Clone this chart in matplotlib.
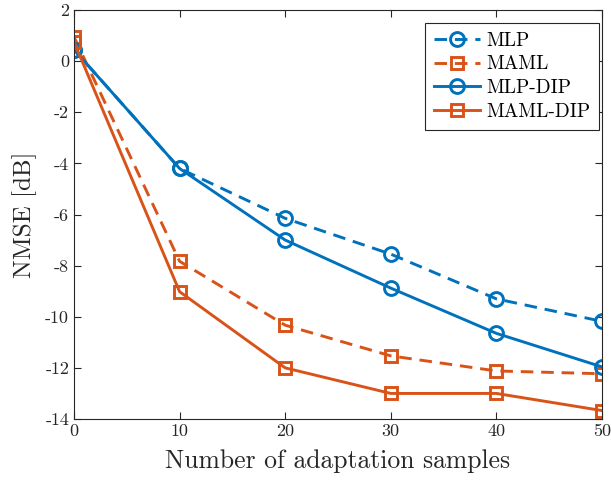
import matplotlib
matplotlib.use("Agg")
import matplotlib.pyplot as plt
import numpy as np

plt.rcParams["font.family"] = "serif"
plt.rcParams["font.serif"] = ["cmr10", "DejaVu Serif"]
plt.rcParams["axes.unicode_minus"] = False
plt.rcParams["mathtext.fontset"] = "cm"

# data
samples = [0, 10, 20, 30, 40, 50]
mlp = [0.45, -4.2, -6.15, -7.55, -9.3, -10.18]
maml = [0.95, -7.83, -10.33, -11.53, -12.12, -12.23]
mlp_dip = [0.45, -4.2, -7.0, -8.88, -10.65, -11.96]
maml_dip = [0.75, -9.02, -12.0, -13.0, -13.0, -13.67]

xticks = [0, 10, 20, 30, 40, 50]
yticks = [2, 0, -2, -4, -6, -8, -10, -12, -14]

blue = "#0072BD"
orange = "#D95319"

fig = plt.figure(figsize=(6.11, 4.8), dpi=100)
ax = fig.add_axes([74 / 611, 61 / 480, 528 / 611, 409 / 480])

dash = (4.3, 2.7)
ax.plot(samples, mlp, "--o", color=blue, lw=2.1, ms=10, mew=2.1, mfc="none", label="MLP", dashes=dash)
ax.plot(samples, maml, "--s", color=orange, lw=2.1, ms=8, mew=2.1, mfc="none", label="MAML", dashes=dash)
ax.plot(samples, mlp_dip, "-o", color=blue, lw=2.1, ms=10, mew=2.1, mfc="none", label="MLP-DIP")
ax.plot(samples, maml_dip, "-s", color=orange, lw=2.1, ms=8, mew=2.1, mfc="none", label="MAML-DIP")

ax.set_xlim(0, 50)
ax.set_ylim(-14, 2)
ax.set_xticks(xticks)
ax.set_xticklabels([str(t) for t in xticks])
ax.set_yticks(yticks)
ax.set_yticklabels([str(t) for t in yticks])
ax.tick_params(direction="in", top=True, right=True, labelsize=13, colors="#262626", length=5, width=0.8)
for s in ax.spines.values():
    s.set_color("#262626")
    s.set_linewidth(0.8)

ax.set_xlabel("Number of adaptation samples", fontsize=18.5, color="#262626", labelpad=7)
ax.set_ylabel("NMSE [dB]", fontsize=18, color="#262626", labelpad=6)

leg = ax.legend(loc="upper right", bbox_to_anchor=(599 / 611, 1 - 23 / 480),
                bbox_transform=fig.transFigure, fontsize=14, fancybox=False,
                edgecolor="#262626", framealpha=1, handlelength=2.4, handletextpad=0.3,
                borderpad=0.45, labelspacing=0.3, borderaxespad=0)
leg.get_frame().set_linewidth(0.8)

fig.savefig("out.png", dpi=100)
